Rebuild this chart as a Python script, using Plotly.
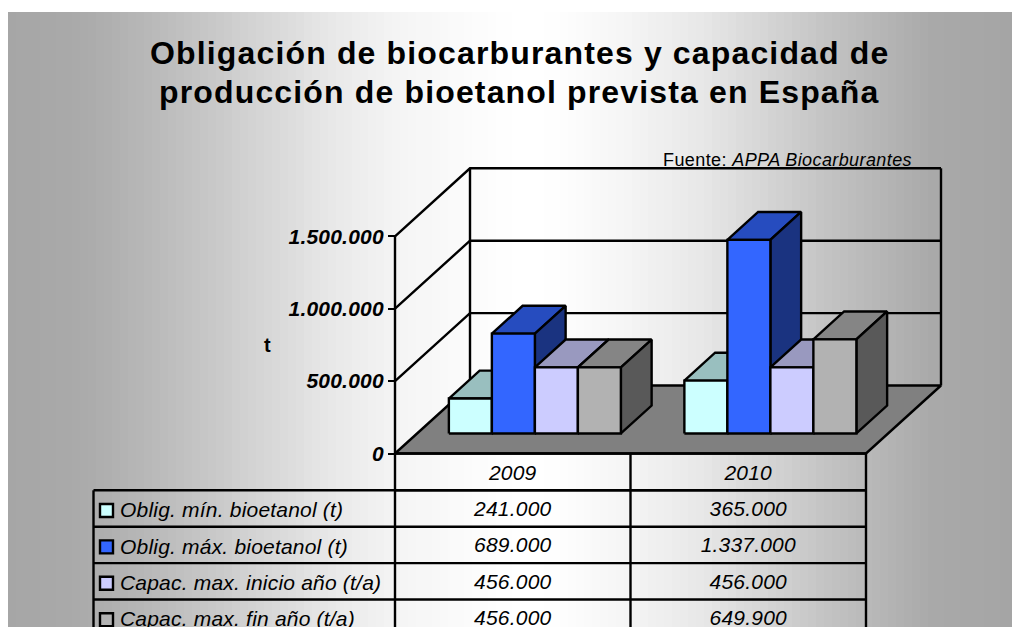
import numpy as np
import plotly.graph_objects as go

# ---------- data ----------
categories = ["2009", "2010"]
series_names = ["Oblig. mín. bioetanol (t)", "Oblig. máx. bioetanol (t)",
                "Capac. max. inicio año (t/a)", "Capac. max. fin año (t/a)"]
oblig_min = [241000, 365000]
oblig_max = [689000, 1337000]
capac_ini = [456000, 456000]
capac_fin = [456000, 649900]
table_text = [["241.000", "365.000"], ["689.000", "1.337.000"],
              ["456.000", "456.000"], ["456.000", "649.900"]]
y_ticks = [0, 500000, 1000000, 1500000]
y_tick_text = ["0", "500.000", "1.000.000", "1.500.000"]
title_lines = ["Obligación de biocarburantes y capacidad de",
               "producción de bioetanol prevista en España"]

# ---------- styles ----------
front = ["#CCFFFF", "#3366FF", "#CCCCFF", "#B2B2B2"]
top = ["#99BFBF", "#264CBF", "#9999BF", "#858585"]
side = ["#7A9999", "#1A3380", "#7A7A99", "#595959"]
FONT = "Liberation Sans"
LW = 2.4
bg_stop_px = [8, 70, 97, 148, 200, 340, 400, 490, 520, 560, 620, 700, 839, 930, 1012]
bg_stop_grey = [166, 169, 173, 184, 197, 234, 245, 253, 255, 254, 246, 232, 192, 169, 165]

# ---------- layout geometry ----------
W, H = 1012, 627
X0, Y0 = 395.0, 453.5          # pixel of category 0 / value 0 on the front plane
CAT_PX = 235.5                 # pixels per category
VAL_PX = 500000 / 72.4         # value units per pixel


def xu(px):
    return (px - X0) / CAT_PX


def yu(py):
    return (Y0 - py) * VAL_PX


def sp(text, px):
    return f'<span style="letter-spacing:{px}px">{text}</span>'


OX = 75 / CAT_PX               # oblique shift of the full depth
OY = 68 * VAL_PX
YMAX = 1500000
BAR_W = 0.1826
Z0, Z1 = 0.295, 0.705          # depth range of the bars


def proj(x, v, z=0.0):
    return x + z * OX, v + z * OY


fig = go.Figure()


def poly(points, fill=None, lw=LW, color="black"):
    xs = [p[0] for p in points]
    ys = [p[1] for p in points]
    if fill:
        xs.append(xs[0]); ys.append(ys[0])
    fig.add_trace(go.Scatter(
        x=xs, y=ys, mode="lines", hoverinfo="skip", showlegend=False,
        fill="toself" if fill else None, fillcolor=fill,
        line=dict(color=color, width=lw)))


# background gradient (banded)
edges = np.arange(8, W + 8, 8.0)
mids = (edges[:-1] + edges[1:]) / 2
greys = np.interp(mids, bg_stop_px, bg_stop_grey)
fig.add_trace(go.Heatmap(
    x=[xu(e) for e in edges], y=[yu(H), yu(12)], z=[greys.tolist()],
    zmin=0, zmax=255, colorscale=[[0, "#000000"], [1, "#FFFFFF"]],
    showscale=False, hoverinfo="skip"))

n = len(categories)
# floor
poly([proj(0, 0), proj(n, 0), proj(n, 0, 1), proj(0, 0, 1)], fill="#808080")

# walls and gridlines
for v in y_ticks[1:]:
    poly([proj(0, v), proj(0, v, 1), proj(n, v, 1)])
poly([proj(0, 0, 1), proj(0, YMAX, 1)])
poly([proj(n, 0, 1), proj(n, YMAX, 1)])

# bars
series = [oblig_min, oblig_max, capac_ini, capac_fin]
for c in range(n):
    start = c + 0.5 - BAR_W * len(series) / 2
    for s, vals in enumerate(series):
        v = vals[c]
        x0, x1 = start + s * BAR_W, start + (s + 1) * BAR_W
        poly([proj(x0, v, Z0), proj(x1, v, Z0), proj(x1, v, Z1), proj(x0, v, Z1)], fill=top[s])
        poly([proj(x1, 0, Z0), proj(x1, v, Z0), proj(x1, v, Z1), proj(x1, 0, Z1)], fill=side[s])
        poly([proj(x0, 0, Z0), proj(x1, 0, Z0), proj(x1, v, Z0), proj(x0, v, Z0)], fill=front[s])

# front axis and data table
ROW_PX = 36.4
row_top = 490.3
bottom = yu(row_top + 4 * ROW_PX)
poly([(0, YMAX), (0, bottom)])
for i in range(1, n + 1):
    poly([(i, 0), (i, bottom)])
poly([(xu(93.5), yu(row_top)), (xu(93.5), bottom)])
poly([(0, 0), (n, 0)])
poly([(0, yu(row_top)), (n, yu(row_top))])
for r in range(0, 5):
    py = row_top + r * ROW_PX
    poly([(xu(93.5), yu(py)), (n, yu(py))])

tf = dict(family=FONT, size=21, color="black", style="italic")
fig.add_trace(go.Scatter(
    x=[i + 0.5 for i in range(n)], y=[yu(row_top - ROW_PX / 2 + 2.5)] * n,
    text=[sp(c, 0.2) for c in categories], mode="text", textfont=tf,
    hoverinfo="skip", showlegend=False))
for r, name in enumerate(series_names):
    yc = row_top + (r + 0.5) * ROW_PX
    fig.add_trace(go.Scatter(
        x=[xu(120)], y=[yu(yc + 3.5)], text=[sp(name, 0.2)], mode="text", textposition="middle right",
        textfont=tf, hoverinfo="skip", showlegend=False))
    fig.add_trace(go.Scatter(
        x=[xu(106.5)], y=[yu(yc + 2.0)], mode="markers", hoverinfo="skip", showlegend=False,
        marker=dict(symbol="square", size=13, color=front[r], line=dict(color="black", width=2.4))))
    fig.add_trace(go.Scatter(
        x=[i + 0.5 for i in range(n)], y=[yu(yc + 2.0)] * n,
        text=[sp(t, 0.2) for t in table_text[r]], mode="text",
        textfont=tf, hoverinfo="skip", showlegend=False))

title_font = dict(family=FONT, size=32, color="black", weight="bold")
fig.update_layout(
    width=W, height=H, margin=dict(l=0, r=0, t=0, b=0), autosize=False,
    paper_bgcolor="white", plot_bgcolor="rgba(0,0,0,0)", showlegend=False,
    xaxis=dict(range=[xu(0), xu(W)], visible=False, domain=[0, 1]),
    yaxis=dict(range=[yu(H), yu(0)], domain=[0, 1], anchor="free", position=X0 / W,
               tickvals=y_ticks, ticktext=[sp(t, 0.2) for t in y_tick_text], ticks="outside", ticklen=7,
               tickwidth=2.4, tickcolor="black", showgrid=False, zeroline=False, showline=False,
               tickfont=dict(family=FONT, size=21, color="black", weight="bold", style="italic")),
    annotations=[
        dict(text=sp(title_lines[0], 1.15), xref="paper", yref="paper", x=519 / W, y=1 - 53.5 / H,
             xanchor="center", yanchor="middle", showarrow=False, font=title_font),
        dict(text=sp(title_lines[1], 1.15), xref="paper", yref="paper", x=519 / W, y=1 - 92.5 / H,
             xanchor="center", yanchor="middle", showarrow=False, font=title_font),
        dict(text=sp("Fuente: ", 0.4) + "<i>" + sp("APPA Biocarburantes", 0.4) + "</i>",
             xref="paper", yref="paper",
             x=787.5 / W, y=1 - 160.5 / H, xanchor="center", yanchor="middle", showarrow=False,
             font=dict(family=FONT, size=18, color="black")),
        dict(text="<b>t</b>", xref="paper", yref="paper", x=267 / W, y=1 - 345 / H,
             xanchor="center", yanchor="middle", showarrow=False,
             font=dict(family=FONT, size=20, color="black")),
    ])

fig.write_html("out.html", config={"displayModeBar": False},
               post_script="document.body.style.margin='0';document.body.style.overflow='hidden';")
